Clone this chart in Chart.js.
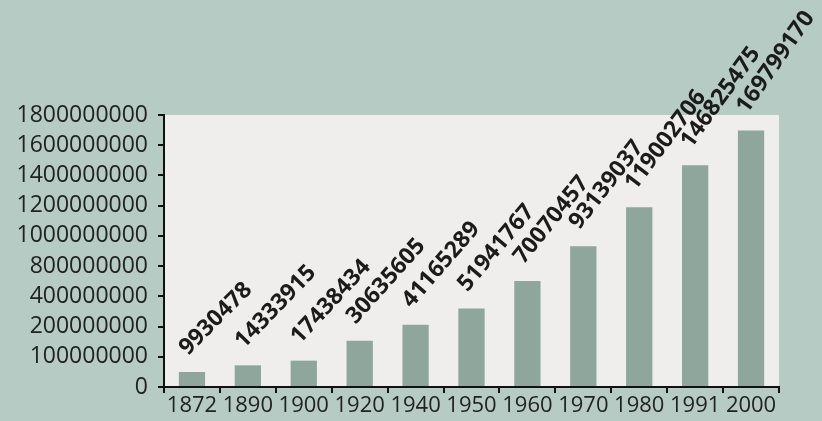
<!DOCTYPE html>
<html>
<head>
<meta charset="utf-8">
<script src="https://cdn.jsdelivr.net/npm/chart.js@4"></script>
<style>
  html, body { margin: 0; padding: 0; background: #b6cbc3; }
  #wrap { width: 822px; height: 421px; }
</style>
</head>
<body>
<div id="wrap"><canvas id="pop-chart" width="822" height="421"></canvas></div>
<script>
// DATA
const years = ["1872", "1890", "1900", "1920", "1940", "1950", "1960", "1970", "1980", "1991", "2000"]
const population = [9930478, 14333915, 17438434, 30635605, 41165289, 51941767, 70070457, 93139037, 119002706, 146825475, 169799170]
// tick labels as printed on the original y axis (evenly spaced)
const yTickLabels = ["0", "100000000", "200000000", "400000000", "800000000", "1000000000", "1200000000", "1400000000", "1600000000", "1800000000"]

const plotBg = {
  id: "plotBg",
  beforeDraw(chart) {
    const { ctx, chartArea } = chart
    ctx.save()
    ctx.fillStyle = "#efeeec"
    ctx.fillRect(chartArea.left, chartArea.top, chartArea.right - chartArea.left, chartArea.bottom - chartArea.top)
    ctx.restore()
  },
}

const valueLabels = {
  id: "valueLabels",
  afterDatasetsDraw(chart) {
    const { ctx } = chart
    const meta = chart.getDatasetMeta(0)
    ctx.save()
    ctx.font = "bold 23px 'Open Sans'"
    ctx.fillStyle = "#1b1b1b"
    ctx.textAlign = "left"
    ctx.textBaseline = "alphabetic"
    meta.data.forEach((bar, i) => {
      const angle = ((45 + i) * Math.PI) / 180
      ctx.save()
      ctx.translate(bar.x - 4, bar.y - 16)
      ctx.rotate(-angle)
      ctx.fillText(String(population[i]), 0, 0)
      ctx.restore()
    })
    ctx.restore()
  },
}

const popCanvas = document.getElementById("pop-chart")

let popChart = new Chart(popCanvas, {
  type: "bar",
  data: {
    labels: years,
    datasets: [
      {
        data: population,
        backgroundColor: "#8ea69c",
        borderWidth: 0,
        barPercentage: 0.47,
        categoryPercentage: 1,
      },
    ],
  },
  options: {
    responsive: false,
    animation: false,
    layout: {
      padding: { left: 0, top: 115, right: 43, bottom: 0 },
    },
    scales: {
      x: {
        afterFit(scale) {
          scale.height = 34
        },
        border: { color: "#111", width: 2 },
        grid: { drawOnChartArea: false, color: "#111", lineWidth: 2, tickLength: 6 },
        ticks: {
          color: "#222",
          font: { family: "'Open Sans'", size: 22 },
          padding: 0,
          maxRotation: 0,
          autoSkip: false,
        },
      },
      y: {
        min: 0,
        max: 180000000,
        afterFit(scale) {
          scale.width = 164
        },
        border: { color: "#111", width: 2 },
        grid: { drawOnChartArea: false, color: "#111", lineWidth: 2, tickLength: 6 },
        ticks: {
          stepSize: 20000000,
          autoSkip: false,
          color: "#222",
          font: { family: "'Open Sans'", size: 23 },
          padding: 10,
          callback: (value, index) => yTickLabels[index],
        },
      },
    },
    plugins: {
      legend: { display: false },
      tooltip: { enabled: false },
    },
  },
  plugins: [plotBg, valueLabels],
})
</script>
</body>
</html>
